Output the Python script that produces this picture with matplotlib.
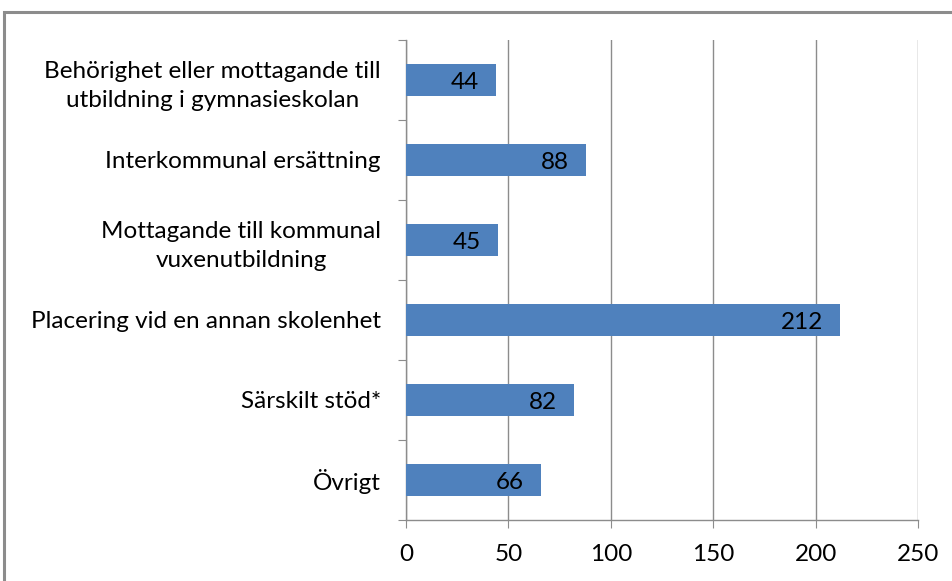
import matplotlib
matplotlib.use("Agg")
import matplotlib.pyplot as plt
from matplotlib.patches import Rectangle

categories = [
    "Behörighet eller mottagande till\nutbildning i gymnasieskolan",
    "Interkommunal ersättning",
    "Mottagande till kommunal\nvuxenutbildning",
    "Placering vid en annan skolenhet",
    "Särskilt stöd*",
    "Övrigt",
]
values = [44, 88, 45, 212, 82, 66]
xticks = [0, 50, 100, 150, 200, 250]

W, H = 953, 581
fig = plt.figure(figsize=(W / 100, H / 100), dpi=100)
plt.rcParams['font.family'] = ['Lato', 'DejaVu Sans']
FS = 17.5

# outer chart frame (extends beyond right/bottom edges)
fig.patches.append(Rectangle((4 / W, -0.1), 1.2, (H - 12) / H + 0.1,
                             transform=fig.transFigure, fill=False,
                             edgecolor='#8c8c8c', linewidth=2.2))

ax = fig.add_axes([406 / W, 1 - 520 / H, (918 - 406) / W, (520 - 40) / H])
n = len(categories)
ypos = list(range(n))[::-1]
ax.barh(ypos, values, height=0.4, color='#4f81bd', zorder=3)
ax.set_ylim(-0.5, n - 0.5)
ax.set_xlim(0, 250)
ax.set_xticks(xticks)
ax.set_xticklabels([str(t) for t in xticks], fontsize=FS)
ax.set_yticks([y - 0.5 for y in range(n + 1)])
ax.set_yticklabels([])
ax.set_yticks(ypos, minor=True)
ax.set_yticklabels(categories, minor=True, fontsize=FS, linespacing=1.45)
ax.tick_params(axis='y', which='minor', length=0, pad=18)
ax.tick_params(axis='y', which='major', length=6, color='#8c8c8c', direction='out')
ax.tick_params(axis='x', length=6, color='#8c8c8c', direction='out', pad=11)
for lab in ax.get_yticklabels(minor=True):
    lab.set_horizontalalignment('right')
    lab.set_multialignment('center')

ax.grid(axis='x', color='#8c8c8c', linewidth=1, zorder=0)
for s in ['top', 'right']:
    ax.spines[s].set_visible(False)
for s in ['left', 'bottom']:
    ax.spines[s].set_color('#8c8c8c')
    ax.spines[s].set_linewidth(1)

for y, v in zip(ypos, values):
    ax.text(v - 8.5, y - 0.03, str(v), ha='right', va='center', fontsize=FS,
            color='black', zorder=4)

fig.savefig("out.png", dpi=100)
